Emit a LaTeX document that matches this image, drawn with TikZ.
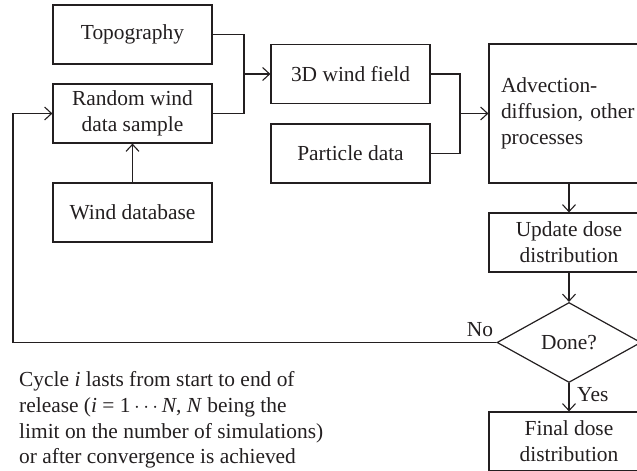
\documentclass[tikz,border=0pt]{standalone}
\usepackage{fontspec}
\setmainfont{Liberation Serif}
\usetikzlibrary{shapes.geometric,arrows.meta}
\definecolor{ink}{HTML}{231F20}
\begin{document}
\begin{tikzpicture}[x=1bp,y=-1bp,
  every node/.style={text=ink,font=\fontsize{21.5}{26}\selectfont},
  box/.style={draw=ink,line width=1.2bp,minimum width=159bp,minimum height=59bp,inner sep=0pt,align=center},
  rbox/.style={box,minimum width=160bp},
  decision/.style={draw=ink,line width=1.2bp,shape=diamond,aspect=1.8,minimum width=144bp,minimum height=80bp,inner sep=0pt},
  conn/.style={draw=ink,line width=1.2bp},
  arr/.style={conn,-{Straight Barb[length=7bp,width=13bp,line width=1.1bp]}}]
\useasboundingbox (0,0) rectangle (637,471);
\clip (0,0) rectangle (637,471);
\node[box] (topo) at (132.5,34.5) {Topography};
\node[box] (rand) at (132.5,113.5) {Random wind\\data sample};
\node[box] (wdb) at (132.5,212.5) {Wind database};
\node[box] (wind) at (350.5,74) {3D wind field};
\node[box] (part) at (350.5,153.5) {Particle data};
\node[rbox,minimum height=139bp,text width=136bp,inner xsep=12bp,align=left] (adv) at (569,113.5) {Advection-\\diffusion, other\\processes};
\node[rbox] (upd) at (569,242.5) {Update dose\\distribution};
\node[decision] (done) at (569,342.5) {Done?};
\node[rbox] (final) at (569,441.5) {Final dose\\distribution};
\coordinate (j1) at (244,74);
\coordinate (j2) at (460,113.5);
\coordinate (cl) at (13,342.5);
\draw[conn] (topo.east) -| (j1);
\draw[conn] (rand.east) -| (j1);
\draw[arr] (j1) -- (wind.west);
\draw[arr] (wdb.north) -- (rand.south);
\draw[conn] (wind.east) -| (j2);
\draw[conn] (part.east) -| (j2);
\draw[arr] (j2) -- (adv.west);
\draw[arr] (adv.south) -- (upd.north);
\draw[arr] (upd.south) -- (done.north);
\draw[arr] (done.south) -- (final.north);
\draw[arr] (done.west) -- (cl) |- (rand.west);
\node[anchor=south,inner sep=0pt] (nolbl) at (480,337) {No};
\node[anchor=west,inner sep=0pt] (yeslbl) at (577,395) {Yes};
\node[anchor=north west,inner sep=0pt,align=left] (cap) at (19,371) {Cycle \textit{i} lasts from start to end of\\release (\textit{i} = 1\,$\cdots$\,\textit{N}, \textit{N} being the\\limit on the number of simulations)\\or after convergence is achieved};
\end{tikzpicture}
\end{document}
